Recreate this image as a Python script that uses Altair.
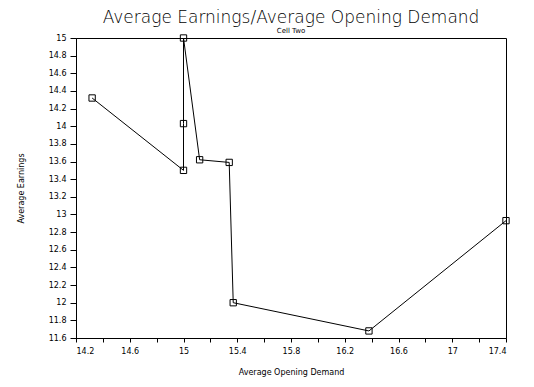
import altair as alt
import pandas as pd

demand = [14.32, 15.0, 15.0, 15.0, 15.12, 15.34, 15.37, 16.38, 17.4]
earnings = [14.32, 13.5, 14.03, 15.0, 13.62, 13.59, 12.0, 11.68, 12.93]
order = list(range(len(demand)))

x_ticks = [14.2, 14.4, 14.6, 14.8, 15.0, 15.2, 15.4, 15.6, 15.8, 16.0, 16.2,
           16.4, 16.6, 16.8, 17.0, 17.2, 17.4]
y_ticks = [11.6, 11.8, 12.0, 12.2, 12.4, 12.6, 12.8, 13.0, 13.2, 13.4, 13.6,
           13.8, 14.0, 14.2, 14.4, 14.6, 14.8, 15.0]

df = pd.DataFrame({"demand": demand, "earnings": earnings, "order": order})

FONT = "DejaVu Sans"

x = alt.X("demand:Q", scale=alt.Scale(domain=[14.2, 17.4], nice=False, zero=False),
          axis=alt.Axis(title="Average Opening Demand", values=x_ticks, format="~g",
                        labelExpr="abs(round(datum.value*10)) % 4 == 2 ? datum.label : ''",
                        grid=False, tickSize=4, labelPadding=5, titlePadding=13,
                        labelFontSize=8, titleFontSize=8, labelFont=FONT, titleFont=FONT,
                        titleFontWeight="normal", domainColor="black", tickColor="black",
                        labelColor="black", titleColor="black"))
y = alt.Y("earnings:Q", scale=alt.Scale(domain=[11.6, 15.0], nice=False, zero=False),
          axis=alt.Axis(title="Average Earnings", values=y_ticks, format="~g",
                        grid=False, tickSize=6, labelPadding=4, titlePadding=23,
                        labelFontSize=8, titleFontSize=8, labelFont=FONT, titleFont=FONT,
                        titleFontWeight="normal", domainColor="black", tickColor="black",
                        labelColor="black", titleColor="black"))

line = alt.Chart(df).mark_line(color="black", strokeWidth=1).encode(x=x, y=y, order="order:Q")
pts = alt.Chart(df).mark_point(shape="square", filled=False, color="black", size=40,
                               strokeWidth=1, opacity=1).encode(x=x, y=y)

chart = (line + pts).properties(
    width=430, height=300,
    title=alt.TitleParams(text="Average Earnings/Average Opening Demand",
                          subtitle="Cell Two", font=FONT, fontSize=17, fontWeight=200,
                          subtitleFont=FONT, subtitleFontSize=7, subtitlePadding=0,
                          color="black", subtitleColor="black", anchor="middle", offset=0,
                          dy=2, lineHeight=17, subtitleLineHeight=8),
    autosize=alt.AutoSizeParams(type="none"),
    padding={"left": 68, "top": 30, "right": 20, "bottom": 45},
).configure_view(stroke="black", strokeWidth=1)

chart.save("out.html", embed_options={"renderer": "svg", "actions": False})
